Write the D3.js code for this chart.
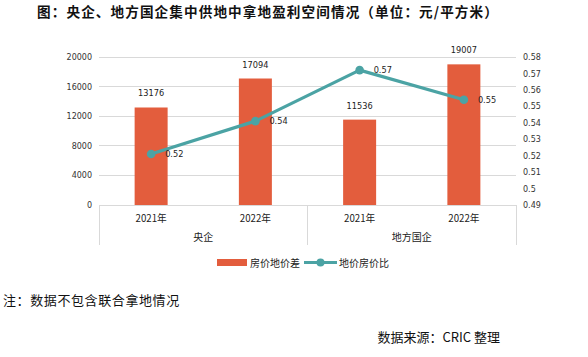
<!DOCTYPE html>
<html><head><meta charset="utf-8">
<script src="https://cdn.jsdelivr.net/npm/d3@7"></script>
<style>
body{margin:0;background:#fff;}
svg{display:block;font-family:"DejaVu Sans","Noto Sans CJK SC",sans-serif;}
.cjk{font-family:"Noto Sans CJK SC",sans-serif;}
</style></head>
<body>
<svg id="c" width="588" height="357"></svg>
<script>
const years = ["2021年","2022年","2021年","2022年"];
const groups = ["央企","地方国企"];
const priceDiff = [13176,17094,11536,19007];
const ratio = [0.521,0.541,0.572,0.554];
const ratioLabels = ["0.52","0.54","0.57","0.55"];
const leftTicks = [0,4000,8000,12000,16000,20000];
const rightTicks = [0.49,0.5,0.51,0.52,0.53,0.54,0.55,0.56,0.57,0.58];
const seriesNames = ["房价地价差","地价房价比"];

const barColor = "#e35d3d", lineColor = "#4ba3a4", gridColor = "#d9d9d9";
const svg = d3.select("#c");
const L = 99, R = 516, T = 57, B = 205;

const x = d3.scaleBand().domain(d3.range(4)).range([L,R]).paddingInner(0).paddingOuter(0);
const yL = d3.scaleLinear().domain([0,20000]).range([B,T]);
const yR = d3.scaleLinear().domain([0.49,0.58]).range([B,T]);

// title
svg.append("text").attr("class","cjk").attr("x",268).attr("y",17).attr("text-anchor","middle")
  .attr("font-size",13.6).attr("font-weight","bold").attr("fill","#111").attr("letter-spacing",1.1)
  .text("图：央企、地方国企集中供地中拿地盈利空间情况（单位：元/平方米）");

// gridlines
svg.append("g").selectAll("line").data(leftTicks).join("line")
  .attr("x1",L).attr("x2",R).attr("y1",d=>yL(d)).attr("y2",d=>yL(d))
  .attr("stroke",gridColor).attr("stroke-width",1).attr("shape-rendering","crispEdges");

// left axis
const la = svg.append("g").attr("transform",`translate(${L},0)`)
  .call(d3.axisLeft(yL).tickValues(leftTicks).tickSize(0).tickPadding(7).tickFormat(d3.format("d")));
la.select(".domain").remove();
la.selectAll("text").attr("font-size",8).attr("fill","#333").attr("font-family","DejaVu Sans");

// right axis
const ra = svg.append("g").attr("transform",`translate(${R},0)`)
  .call(d3.axisRight(yR).tickValues(rightTicks).tickSize(0).tickPadding(7).tickFormat(d=>d3.format("")(+d.toFixed(2))));
ra.select(".domain").remove();
ra.selectAll("text").attr("font-size",8).attr("fill","#333").attr("font-family","DejaVu Sans");

// bars
const bw = 33;
svg.append("g").selectAll("rect").data(priceDiff).join("rect")
  .attr("x",(d,i)=>x(i)+x.bandwidth()/2-bw/2).attr("width",bw)
  .attr("y",d=>yL(d)).attr("height",d=>B-yL(d)).attr("fill",barColor);
svg.append("g").selectAll("text").data(priceDiff).join("text")
  .attr("x",(d,i)=>x(i)+x.bandwidth()/2).attr("y",d=>yL(d)-11)
  .attr("text-anchor","middle").attr("font-size",8.2).attr("fill","#222").text(d=>d);

// category axis: separators
const seps = [0,2,4].map(i=> i<4 ? x(i) : R);
svg.append("g").selectAll("line").data(seps).join("line")
  .attr("x1",d=>d).attr("x2",d=>d).attr("y1",B).attr("y2",245)
  .attr("stroke",gridColor).attr("shape-rendering","crispEdges");
svg.append("g").selectAll("text").data(years).join("text").attr("class","cjk")
  .attr("x",(d,i)=>x(i)+x.bandwidth()/2).attr("y",222).attr("text-anchor","middle")
  .attr("font-size",9.7).attr("fill","#222").text(d=>d);
svg.append("g").selectAll("text").data(groups).join("text").attr("class","cjk")
  .attr("x",(d,g)=>(x(g*2)+x(g*2+1)+x.bandwidth())/2).attr("y",241).attr("text-anchor","middle")
  .attr("font-size",10).attr("fill","#222").text(d=>d);

// line
const line = d3.line().x((d,i)=>x(i)+x.bandwidth()/2).y(d=>yR(d));
svg.append("path").datum(ratio).attr("d",line).attr("fill","none")
  .attr("stroke",lineColor).attr("stroke-width",3.2).attr("stroke-linejoin","round");
svg.append("g").selectAll("circle").data(ratio).join("circle")
  .attr("cx",(d,i)=>x(i)+x.bandwidth()/2).attr("cy",d=>yR(d)).attr("r",4.3).attr("fill",lineColor);
svg.append("g").selectAll("text").data(ratio).join("text")
  .attr("x",(d,i)=>x(i)+x.bandwidth()/2+14).attr("y",d=>yR(d)+3)
  .attr("font-size",8.2).attr("fill","#222").text((d,i)=>ratioLabels[i]);

// legend
const lg = svg.append("g");
lg.append("rect").attr("x",217).attr("y",259).attr("width",30).attr("height",7).attr("fill",barColor);
lg.append("text").attr("class","cjk").attr("x",250).attr("y",266.5).attr("font-size",10).attr("fill","#222").text(seriesNames[0]);
lg.append("line").attr("x1",304).attr("x2",337).attr("y1",262.5).attr("y2",262.5).attr("stroke",lineColor).attr("stroke-width",3);
lg.append("circle").attr("cx",320.5).attr("cy",262.5).attr("r",4).attr("fill",lineColor);
lg.append("text").attr("class","cjk").attr("x",339).attr("y",266.5).attr("font-size",10).attr("fill","#222").text(seriesNames[1]);

// notes
svg.append("text").attr("class","cjk").attr("x",3).attr("y",305).attr("font-size",13).attr("fill","#111").attr("letter-spacing",0.6)
  .text("注：数据不包含联合拿地情况");
svg.append("text").attr("class","cjk").attr("x",500).attr("y",342).attr("text-anchor","end").attr("font-size",13).attr("fill","#111")
  .text("数据来源：CRIC 整理");
</script>
</body></html>
